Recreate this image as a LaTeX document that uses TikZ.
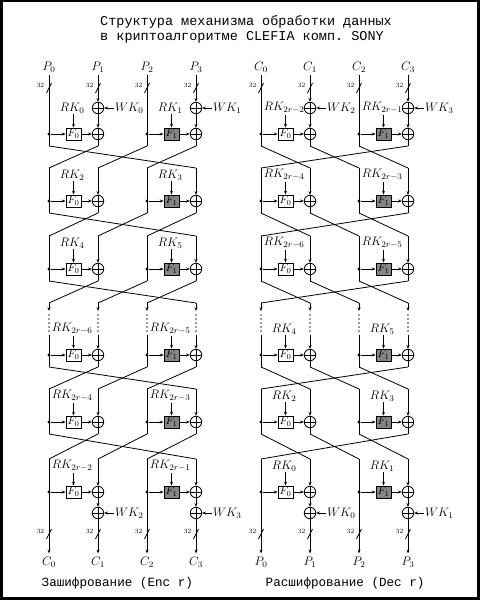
\documentclass[tikz,border=0pt]{standalone}
\usepackage{fix-cm}
\usepackage{fontspec}
\setmonofont{Liberation Mono}
\usetikzlibrary{arrows.meta}
\definecolor{F0col}{gray}{1}
\definecolor{F1col}{gray}{0.52}
\tikzset{
 ln/.style={line width=0.8pt},
 arr/.style={ln,-{Stealth[length=3.8pt,width=3pt]}},
 dotl/.style={line width=1.3pt,dash pattern=on 0.01pt off 4pt,line cap=round},
 xorn/.style={circle,draw,ln,minimum size=11.5pt,inner sep=0pt,
   path picture={\draw[ln] (path picture bounding box.north) -- (path picture bounding box.south)
   (path picture bounding box.west) -- (path picture bounding box.east);}},
 fbox/.style={draw,ln,minimum width=15pt,minimum height=12pt,inner sep=0pt,font=\fontsize{11}{11}\selectfont},
 dotn/.style={circle,fill,inner sep=0pt,minimum size=3.4pt},
 lab/.style={font=\fontsize{12.3}{13}\selectfont,inner sep=1pt},
 inlab/.style={lab,outer sep=2pt},
 tiny32/.style={font=\fontsize{6.5}{6.5}\selectfont,inner sep=0pt},
 ttl/.style={font=\fontsize{13.5}{16}\selectfont\ttfamily,inner sep=0pt,anchor=base west},
 foot/.style={font=\fontsize{12.6}{14}\selectfont\ttfamily,inner sep=0pt,anchor=base west},
}
% block of one half-round: #1 panel, #2 round, #3 col a, #4 col b, #5 F index, #6 xa, #7 yF, #8 RK label
\newcommand\blk[8]{%
 \pgfmathsetmacro\xb{#6+49}%
 \pgfmathsetmacro\xm{#6+24.5}%
 \pgfmathsetmacro\xk{#6+23.2}%
 \node[dotn] (#1-#2-#3-d) at (#6,#7) {};
 \node[fbox,fill=F#5col] (#1-#2-#5-f) at (\xm,#7) {$F_{#5}$};
 \node[xorn] (#1-#2-#4-x) at (\xb,#7) {};
 \node[lab] (#1-#2-#5-k) at (\xk,#7-26) {$#8$};
 \draw[arr] (#1-#2-#5-k.south -| #1-#2-#5-f) -- (#1-#2-#5-f);
 \draw[arr] (#1-#2-#3-d) -- (#1-#2-#5-f);
 \draw[arr] (#1-#2-#5-f) -- (#1-#2-#4-x);
 \coordinate (#1-#2-#3-b) at (#6,#7+12);
 \coordinate (#1-#2-#4-b) at (\xb,#7+12);
}
\newcommand\rnd[6]{% #1 panel #2 round #3 ox #4 yF #5 #6 labels
 \blk{#1}{#2}{0}{1}{0}{49+#3}{#4}{#5}
 \blk{#1}{#2}{2}{3}{1}{147+#3}{#4}{#6}}
\newcommand\slashmark[3]{\draw[ln] (#2-2.5,#3+5) -- (#2+2.5,#3-5);
 \node[tiny32] (#1) at (#2-8.5,#3-3) {32};}
% normal columns
\newcommand\colNa[5]{\coordinate (#1-#2-#3-t) at (#4,#5-33);
 \draw[ln] (#1-#2-#3-t) -- (#1-#2-#3-b);}
\newcommand\colNb[5]{\coordinate (#1-#2-#3-t) at (#4,#5-33);
 \draw[arr] (#1-#2-#3-t) -- (#1-#2-#3-x); \draw[ln] (#1-#2-#3-x) -- (#1-#2-#3-b);}
\newcommand\colsN[4]{\colNa{#1}{#2}{0}{49+#3}{#4}\colNb{#1}{#2}{1}{98+#3}{#4}%
 \colNa{#1}{#2}{2}{147+#3}{#4}\colNb{#1}{#2}{3}{196+#3}{#4}}
% dotted columns
\newcommand\colDtop[5]{\coordinate (#1-#2-#3-t) at (#4,#5-52);
 \coordinate (#1-#2-#3-m) at (#4,#5-44);
 \coordinate (#1-#2-#3-p) at (#4,#5-40);
 \coordinate (#1-#2-#3-q) at (#4,#5-20);
 \draw[arr] (#1-#2-#3-t) -- (#1-#2-#3-m);
 \draw[dotl] (#1-#2-#3-p) -- (#1-#2-#3-q);}
\newcommand\colDa[5]{\colDtop{#1}{#2}{#3}{#4}{#5}\draw[ln] (#1-#2-#3-q) -- (#1-#2-#3-b);}
\newcommand\colDb[5]{\colDtop{#1}{#2}{#3}{#4}{#5}\draw[arr] (#1-#2-#3-q) -- (#1-#2-#3-x);
 \draw[ln] (#1-#2-#3-x) -- (#1-#2-#3-b);}
\newcommand\colsD[4]{\colDa{#1}{#2}{0}{49+#3}{#4}\colDb{#1}{#2}{1}{98+#3}{#4}%
 \colDa{#1}{#2}{2}{147+#3}{#4}\colDb{#1}{#2}{3}{196+#3}{#4}}
% first round columns: #1 P #2 c #3 x #4 label (#5 WK)
\newcommand\colFa[4]{\node[inlab] (#1-in-#2) at (#3,67) {$#4$};
 \draw[ln] (#1-in-#2) -- (#1-1-#2-b);
 \slashmark{#1-st-#2}{#3}{88}}
\newcommand\colFb[5]{\node[inlab] (#1-in-#2) at (#3,67) {$#4$};
 \node[xorn] (#1-wx-#2) at (#3,108) {};
 \node[lab,anchor=west] (#1-wk-#2) at (#3+16,108) {$#5$};
 \draw[arr] (#1-in-#2) -- (#1-wx-#2);
 \draw[arr] (#1-wk-#2) -- (#1-wx-#2);
 \draw[arr] (#1-wx-#2) -- (#1-1-#2-x);
 \draw[ln] (#1-1-#2-x) -- (#1-1-#2-b);
 \slashmark{#1-st-#2}{#3}{88}}
% last round columns: #1 P #2 c #3 x #4 yF #5 out label (#6 WK)
\newcommand\colLa[5]{\coordinate (#1-6-#2-t) at (#3,#4-33);
 \node[inlab,outer sep=2.5pt] (#1-out-#2) at (#3,562) {$#5$};
 \draw[arr] (#1-6-#2-t) -- (#1-out-#2);
 \slashmark{#1-sb-#2}{#3}{534}}
\newcommand\colLb[6]{\coordinate (#1-6-#2-t) at (#3,#4-33);
 \node[inlab,outer sep=2.5pt] (#1-out-#2) at (#3,562) {$#5$};
 \node[xorn] (#1-wy-#2) at (#3,513) {};
 \node[lab,anchor=west] (#1-wl-#2) at (#3+16,513) {$#6$};
 \draw[arr] (#1-6-#2-t) -- (#1-6-#2-x);
 \draw[arr] (#1-6-#2-x) -- (#1-wy-#2);
 \draw[arr] (#1-wl-#2) -- (#1-wy-#2);
 \draw[arr] (#1-wy-#2) -- (#1-out-#2);
 \slashmark{#1-sb-#2}{#3}{534}}
\newcommand\crossE[2]{\draw[ln] (E-#1-1-b) -- (E-#2-0-t);
 \draw[ln] (E-#1-2-b) -- (E-#2-1-t);
 \draw[ln] (E-#1-3-b) -- (E-#2-2-t);
 \draw[ln] (E-#1-0-b) -- (E-#2-3-t);}
\newcommand\crossD[2]{\draw[ln] (D-#1-0-b) -- (D-#2-1-t);
 \draw[ln] (D-#1-1-b) -- (D-#2-2-t);
 \draw[ln] (D-#1-2-b) -- (D-#2-3-t);
 \draw[ln] (D-#1-3-b) -- (D-#2-0-t);}
\begin{document}
\begin{tikzpicture}[x=1pt,y=-1pt]
\useasboundingbox (0,0) rectangle (480,600);
\fill[black] (0,0) rectangle (480,600);
\fill[white] (2.5,1.5) rectangle (476.5,596.5);
\node[ttl] (t1) at (100,25) {Структура механизма обработки данных};
\node[ttl] (t2) at (100,40.5) {в криптоалгоритме CLEFIA комп. SONY};
% ---------------- encryption
\rnd{E}{1}{0}{134}{RK_0}{RK_1}
\rnd{E}{2}{0}{201}{RK_2}{RK_3}
\rnd{E}{3}{0}{269}{RK_4}{RK_5}
\rnd{E}{4}{0}{355}{RK_{2r-6}}{RK_{2r-5}}
\rnd{E}{5}{0}{422}{RK_{2r-4}}{RK_{2r-3}}
\rnd{E}{6}{0}{492}{RK_{2r-2}}{RK_{2r-1}}
\colFa{E}{0}{49}{P_0}
\colFb{E}{1}{98}{P_1}{WK_0}
\colFa{E}{2}{147}{P_2}
\colFb{E}{3}{196}{P_3}{WK_1}
\colsN{E}{2}{0}{201}
\colsN{E}{3}{0}{269}
\colsD{E}{4}{0}{355}
\colsN{E}{5}{0}{422}
\colLa{E}{0}{49}{492}{C_0}
\colLb{E}{1}{98}{492}{C_1}{WK_2}
\colLa{E}{2}{147}{492}{C_2}
\colLb{E}{3}{196}{492}{C_3}{WK_3}
\crossE{1}{2}\crossE{2}{3}\crossE{3}{4}\crossE{4}{5}\crossE{5}{6}
% ---------------- decryption
\rnd{D}{1}{212}{134}{RK_{2r-2}}{RK_{2r-1}}
\rnd{D}{2}{212}{201}{RK_{2r-4}}{RK_{2r-3}}
\rnd{D}{3}{212}{269}{RK_{2r-6}}{RK_{2r-5}}
\rnd{D}{4}{212}{355}{RK_4}{RK_5}
\rnd{D}{5}{212}{422}{RK_2}{RK_3}
\rnd{D}{6}{212}{492}{RK_0}{RK_1}
\colFa{D}{0}{261}{C_0}
\colFb{D}{1}{310}{C_1}{WK_2}
\colFa{D}{2}{359}{C_2}
\colFb{D}{3}{408}{C_3}{WK_3}
\colsN{D}{2}{212}{201}
\colsN{D}{3}{212}{269}
\colsD{D}{4}{212}{355}
\colsN{D}{5}{212}{422}
\colLa{D}{0}{261}{492}{P_0}
\colLb{D}{1}{310}{492}{P_1}{WK_0}
\colLa{D}{2}{359}{492}{P_2}
\colLb{D}{3}{408}{492}{P_3}{WK_1}
\crossD{1}{2}\crossD{2}{3}\crossD{3}{4}\crossD{4}{5}\crossD{5}{6}
\node[foot] (f1) at (41.5,586.5) {Зашифрование (Enc r)};
\node[foot] (f2) at (265.5,586.5) {Расшифрование (Dec r)};
\end{tikzpicture}
\end{document}
